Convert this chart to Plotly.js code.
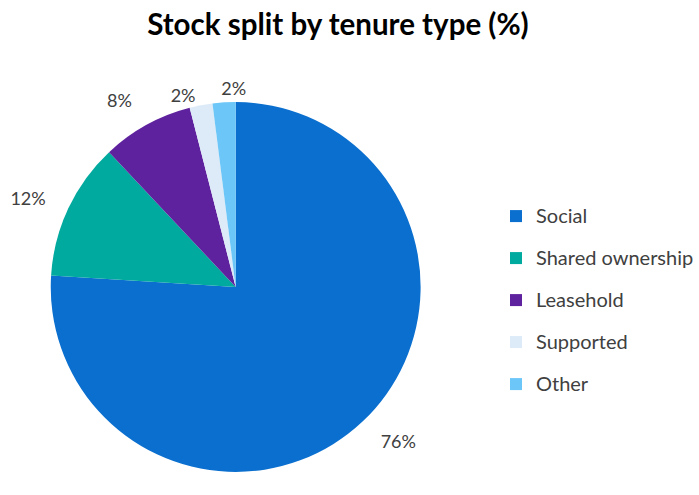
<!DOCTYPE html>
<html>
<head>
<meta charset="utf-8">
<script src="https://cdn.plot.ly/plotly-3.0.1.min.js"></script>
<style>html,body{margin:0;padding:0;background:#fff;}#chart{width:699px;height:495px;}</style>
</head>
<body>
<div id="chart"></div>
<script>
const categories = ["Social", "Shared ownership", "Leasehold", "Supported", "Other"];
const shares = [76, 12, 8, 2, 2];
const sliceColors = ["#0A6FCF", "#00AA9E", "#5F229E", "#DDEBF8", "#6CC6F8"];
const chartTitle = "Stock split by tenure type (%)";

// legend labels: same text, smaller span so the larger legend font gives wider row spacing
const legendLabels = categories.map(c => '<span style="font-size:20px;baseline-shift:5px">' + c + '</span>');
const clear = categories.map(() => "rgba(0,0,0,0)");
const labelFont = {family: "Lato, sans-serif", size: 18, color: "#404040"};

function pieTrace(opts) {
  return Object.assign({
    type: "pie",
    labels: legendLabels,
    values: shares,
    sort: false,
    direction: "clockwise",
    rotation: 0,
    texttemplate: "%{value}%",
    outsidetextfont: labelFont,
    hoverinfo: "skip"
  }, opts);
}

const data = [
  // the pie itself (carries the "Supported" label)
  pieTrace({
    marker: {colors: sliceColors, line: {width: 0}},
    textposition: ["none", "none", "none", "outside", "none"],
    hoverinfo: "label+percent",
    domain: {x: [0.0730, 0.6052], y: [0.0444, 0.7960]}
  }),
  // label rings (transparent) placing the other percentage labels further out
  pieTrace({
    marker: {colors: clear, line: {width: 0}},
    textposition: ["outside", "outside", "outside", "none", "none"],
    showlegend: false,
    domain: {x: [0.04578, 0.63233], y: [0.00606, 0.83434]}
  }),
  pieTrace({
    marker: {colors: clear, line: {width: 0}},
    textposition: ["none", "none", "none", "none", "outside"],
    showlegend: false,
    domain: {x: [0.1073, 0.6509], y: [0.03636, 0.80404]}
  })
];

const layout = {
  width: 699, height: 495,
  margin: {l: 0, r: 0, t: 0, b: 0},
  paper_bgcolor: "#ffffff",
  font: {family: "Lato, sans-serif", color: "#404040"},
  title: {
    text: "<b>" + chartTitle + "</b>",
    font: {family: "Lato, sans-serif", size: 29.5, color: "#000000"},
    x: 0.4835, xanchor: "center",
    y: 0.951, yanchor: "middle"
  },
  showlegend: true,
  legend: {
    x: 0.714, xanchor: "left",
    y: 0.616, yanchor: "top",
    font: {family: "Lato, sans-serif", size: 30, color: "#404040"},
    bgcolor: "rgba(0,0,0,0)"
  }
};

Plotly.newPlot("chart", data, layout, {displayModeBar: false, staticPlot: true});
</script>
</body>
</html>
